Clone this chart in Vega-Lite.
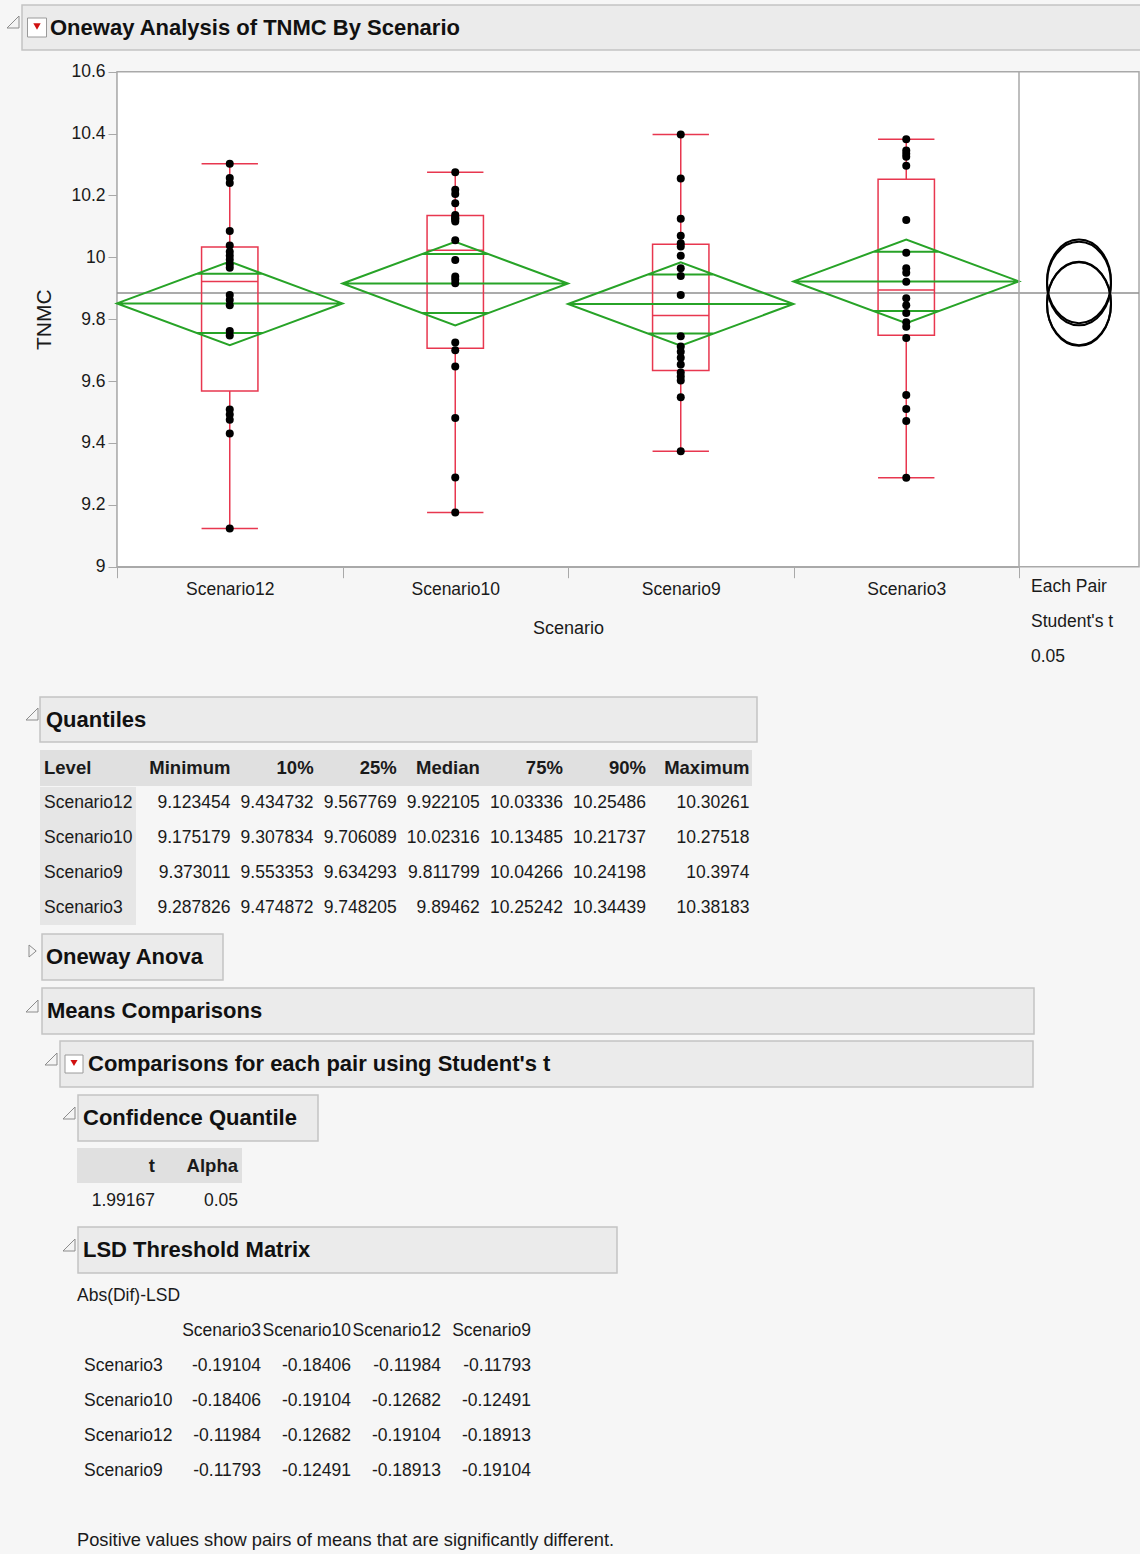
{
"$schema": "https://vega.github.io/schema/vega-lite/v6.json",
"width": 1140, "height": 1554, "padding": 0, "autosize": {"type": "none"},
"background": "#f6f6f6",
"config": {"view": {"stroke": null}, "font": "Liberation Sans, Arial, sans-serif", "text": {"fontSize": 17.5, "color": "#1a1a1a"}},
"datasets": {
 "summary": [
  {"Level":"Scenario12","Minimum":9.123454,"10%":9.434732,"25%":9.567769,"Median":9.922105,"75%":10.03336,"90%":10.25486,"Maximum":10.30261,"Mean":9.851},
  {"Level":"Scenario10","Minimum":9.175179,"10%":9.307834,"25%":9.706089,"Median":10.02316,"75%":10.13485,"90%":10.21737,"Maximum":10.27518,"Mean":9.9152},
  {"Level":"Scenario9","Minimum":9.373011,"10%":9.553353,"25%":9.634293,"Median":9.811799,"75%":10.04266,"90%":10.24198,"Maximum":10.3974,"Mean":9.8491},
  {"Level":"Scenario3","Minimum":9.287826,"10%":9.474872,"25%":9.748205,"Median":9.89462,"75%":10.25242,"90%":10.34439,"Maximum":10.38183,"Mean":9.9222}
 ],
 "obs": [
  {"Scenario":"Scenario12","TNMC":9.123454},{"Scenario":"Scenario12","TNMC":9.4303},{"Scenario":"Scenario12","TNMC":9.4747},{"Scenario":"Scenario12","TNMC":9.492},{"Scenario":"Scenario12","TNMC":9.508},
  {"Scenario":"Scenario12","TNMC":9.747},{"Scenario":"Scenario12","TNMC":9.762},{"Scenario":"Scenario12","TNMC":9.845},{"Scenario":"Scenario12","TNMC":9.862},{"Scenario":"Scenario12","TNMC":9.878},
  {"Scenario":"Scenario12","TNMC":9.9662},{"Scenario":"Scenario12","TNMC":9.978},{"Scenario":"Scenario12","TNMC":9.992},{"Scenario":"Scenario12","TNMC":10.005},{"Scenario":"Scenario12","TNMC":10.018},
  {"Scenario":"Scenario12","TNMC":10.0385},{"Scenario":"Scenario12","TNMC":10.085},{"Scenario":"Scenario12","TNMC":10.24},{"Scenario":"Scenario12","TNMC":10.2565},{"Scenario":"Scenario12","TNMC":10.30261},
  {"Scenario":"Scenario10","TNMC":9.175179},{"Scenario":"Scenario10","TNMC":9.2886},{"Scenario":"Scenario10","TNMC":9.481},{"Scenario":"Scenario10","TNMC":9.647},{"Scenario":"Scenario10","TNMC":9.70},
  {"Scenario":"Scenario10","TNMC":9.7244},{"Scenario":"Scenario10","TNMC":9.916},{"Scenario":"Scenario10","TNMC":9.928},{"Scenario":"Scenario10","TNMC":9.938},{"Scenario":"Scenario10","TNMC":9.991},
  {"Scenario":"Scenario10","TNMC":10.0553},{"Scenario":"Scenario10","TNMC":10.116},{"Scenario":"Scenario10","TNMC":10.122},{"Scenario":"Scenario10","TNMC":10.126},{"Scenario":"Scenario10","TNMC":10.13},
  {"Scenario":"Scenario10","TNMC":10.1365},{"Scenario":"Scenario10","TNMC":10.175},{"Scenario":"Scenario10","TNMC":10.205},{"Scenario":"Scenario10","TNMC":10.21875},{"Scenario":"Scenario10","TNMC":10.27518},
  {"Scenario":"Scenario9","TNMC":9.373011},{"Scenario":"Scenario9","TNMC":9.548},{"Scenario":"Scenario9","TNMC":9.6015},{"Scenario":"Scenario9","TNMC":9.615},{"Scenario":"Scenario9","TNMC":9.628},
  {"Scenario":"Scenario9","TNMC":9.6532},{"Scenario":"Scenario9","TNMC":9.675},{"Scenario":"Scenario9","TNMC":9.695},{"Scenario":"Scenario9","TNMC":9.712},{"Scenario":"Scenario9","TNMC":9.745},
  {"Scenario":"Scenario9","TNMC":9.8786},{"Scenario":"Scenario9","TNMC":9.94},{"Scenario":"Scenario9","TNMC":9.965},{"Scenario":"Scenario9","TNMC":10.005},{"Scenario":"Scenario9","TNMC":10.035},
  {"Scenario":"Scenario9","TNMC":10.0452},{"Scenario":"Scenario9","TNMC":10.07},{"Scenario":"Scenario9","TNMC":10.125},{"Scenario":"Scenario9","TNMC":10.255},{"Scenario":"Scenario9","TNMC":10.3974},
  {"Scenario":"Scenario3","TNMC":9.287826},{"Scenario":"Scenario3","TNMC":9.471},{"Scenario":"Scenario3","TNMC":9.5097},{"Scenario":"Scenario3","TNMC":9.555},{"Scenario":"Scenario3","TNMC":9.739},
  {"Scenario":"Scenario3","TNMC":9.7758},{"Scenario":"Scenario3","TNMC":9.79},{"Scenario":"Scenario3","TNMC":9.82},{"Scenario":"Scenario3","TNMC":9.845},{"Scenario":"Scenario3","TNMC":9.868},
  {"Scenario":"Scenario3","TNMC":9.9212},{"Scenario":"Scenario3","TNMC":9.95},{"Scenario":"Scenario3","TNMC":9.965},{"Scenario":"Scenario3","TNMC":10.015},{"Scenario":"Scenario3","TNMC":10.121},
  {"Scenario":"Scenario3","TNMC":10.2962},{"Scenario":"Scenario3","TNMC":10.325},{"Scenario":"Scenario3","TNMC":10.335},{"Scenario":"Scenario3","TNMC":10.3454},{"Scenario":"Scenario3","TNMC":10.38183}
 ],
 "lsd": [
  {"Row":"Scenario3","Col":"Scenario3","v":-0.19104},{"Row":"Scenario3","Col":"Scenario10","v":-0.18406},{"Row":"Scenario3","Col":"Scenario12","v":-0.11984},{"Row":"Scenario3","Col":"Scenario9","v":-0.11793},
  {"Row":"Scenario10","Col":"Scenario3","v":-0.18406},{"Row":"Scenario10","Col":"Scenario10","v":-0.19104},{"Row":"Scenario10","Col":"Scenario12","v":-0.12682},{"Row":"Scenario10","Col":"Scenario9","v":-0.12491},
  {"Row":"Scenario12","Col":"Scenario3","v":-0.11984},{"Row":"Scenario12","Col":"Scenario10","v":-0.12682},{"Row":"Scenario12","Col":"Scenario12","v":-0.19104},{"Row":"Scenario12","Col":"Scenario9","v":-0.18913},
  {"Row":"Scenario9","Col":"Scenario3","v":-0.11793},{"Row":"Scenario9","Col":"Scenario10","v":-0.12491},{"Row":"Scenario9","Col":"Scenario12","v":-0.18913},{"Row":"Scenario9","Col":"Scenario9","v":-0.19104}
 ]
},
"resolve": {"scale": {"x": "independent", "y": "independent"}, "axis": {"x": "independent", "y": "independent"}},
"layer": [
 {"data": {"values": [{"title": "Oneway Analysis of TNMC By Scenario"}]},
  "layer": [
   {"mark": {"type": "rect", "fill": "#ebebeb", "stroke": "#c4c4c4", "strokeWidth": 1.5},
    "encoding": {"x": {"datum": 0, "type": "quantitative", "scale": {"domain": [0,1], "range": [22,1145], "zero": false, "nice": false}, "axis": null}, "x2": {"datum": 1},
                 "y": {"datum": 0, "type": "quantitative", "scale": {"domain": [0,1], "range": [5,50], "zero": false, "nice": false}, "axis": null}, "y2": {"datum": 1}}},
   {"mark": {"type": "text", "align": "left", "baseline": "middle", "dx": 28, "fontSize": 22, "fontWeight": "bold", "color": "#111111"},
    "encoding": {"x": {"datum": 0, "type": "quantitative", "scale": {"domain": [0,1], "range": [22,1145], "zero": false, "nice": false}, "axis": null},
                 "y": {"datum": 0.5, "type": "quantitative", "scale": {"domain": [0,1], "range": [5,50], "zero": false, "nice": false}, "axis": null},
                 "text": {"field": "title"}}},
   {"mark": {"type": "point", "shape": "M1,-1L1,1L-1,1Z", "size": 144, "filled": true, "fill": "#f4f4f4", "stroke": "#8c8c8c", "strokeWidth": 1, "opacity": 1, "xOffset": -9, "yOffset": -5.5},
    "encoding": {"x": {"datum": 0, "type": "quantitative", "scale": {"domain": [0,1], "range": [22,1145], "zero": false, "nice": false}, "axis": null},
                 "y": {"datum": 0.5, "type": "quantitative", "scale": {"domain": [0,1], "range": [5,50], "zero": false, "nice": false}, "axis": null}}},
   {"mark": {"type": "point", "shape": "square", "size": 361, "filled": true, "fill": "#ffffff", "stroke": "#9a9a9a", "strokeWidth": 1, "opacity": 1, "xOffset": 15},
    "encoding": {"x": {"datum": 0, "type": "quantitative", "scale": {"domain": [0,1], "range": [22,1145], "zero": false, "nice": false}, "axis": null},
                 "y": {"datum": 0.5, "type": "quantitative", "scale": {"domain": [0,1], "range": [5,50], "zero": false, "nice": false}, "axis": null}}},
   {"mark": {"type": "point", "shape": "triangle-down", "size": 55, "filled": true, "fill": "#d01010", "stroke": null, "opacity": 1, "xOffset": 15, "yOffset": -1},
    "encoding": {"x": {"datum": 0, "type": "quantitative", "scale": {"domain": [0,1], "range": [22,1145], "zero": false, "nice": false}, "axis": null},
                 "y": {"datum": 0.5, "type": "quantitative", "scale": {"domain": [0,1], "range": [5,50], "zero": false, "nice": false}, "axis": null}}}
  ]},
 {"data": {"name": "summary"},
  "transform": [{"aggregate": [{"op": "mean", "field": "Mean", "as": "GrandMean"}]}],
  "layer": [
   {"mark": {"type": "rect", "fill": "#ffffff", "stroke": "#a9a9a9", "strokeWidth": 1.5},
    "encoding": {"x": {"datum": 0, "type": "quantitative", "scale": {"domain": [0,1], "range": [117,1139], "zero": false, "nice": false}, "axis": null}, "x2": {"datum": 1},
                 "y": {"datum": 9, "type": "quantitative", "scale": {"domain": [9,10.6], "range": [566.7,71.7], "zero": false, "nice": false}, "axis": null}, "y2": {"datum": 10.6}}},
   {"mark": {"type": "rule", "color": "#8f8f8f", "strokeWidth": 1.5},
    "encoding": {"x": {"datum": 0, "type": "quantitative", "scale": {"domain": [0,1], "range": [117,1139], "zero": false, "nice": false}, "axis": null}, "x2": {"datum": 1},
                 "y": {"field": "GrandMean", "type": "quantitative", "scale": {"domain": [9,10.6], "range": [566.7,71.7], "zero": false, "nice": false}, "axis": null}}}
  ]},
 {"layer": [
   {"data": {"name": "summary"},
    "mark": {"type": "rule", "color": "#e8374f", "strokeWidth": 1.5},
    "encoding": {
     "x": {"field": "Level", "type": "ordinal", "scale": {"type": "band", "domain": ["Scenario12","Scenario10","Scenario9","Scenario3"], "range": [117,1019], "paddingInner": 0, "paddingOuter": 0},
           "axis": {"orient": "bottom", "offset": -987.3, "tickBand": "extent", "domainColor": "#a9a9a9", "domainWidth": 1.5, "tickColor": "#a9a9a9", "tickSize": 11, "labelFontSize": 17.5, "labelColor": "#1a1a1a", "labelPadding": 3, "labelAngle": 0, "title": "Scenario", "titleFontSize": 18, "titleFontWeight": "normal", "titleColor": "#1a1a1a", "titlePadding": 21, "grid": false}},
     "y": {"field": "75%", "type": "quantitative", "scale": {"domain": [9,10.6], "range": [566.7,71.7], "zero": false, "nice": false},
           "axis": {"orient": "left", "offset": -117, "values": [9,9.2,9.4,9.6,9.8,10,10.2,10.4,10.6], "format": "~g", "labelFlush": false, "labelOverlap": false, "domainColor": "#a9a9a9", "domainWidth": 1.5, "tickColor": "#a9a9a9", "tickSize": 9, "labelFontSize": 17.5, "labelColor": "#1a1a1a", "labelPadding": 3, "title": "TNMC", "titleFontSize": 21, "titleFontWeight": "normal", "titleColor": "#1a1a1a", "titlePadding": 16, "grid": false}},
     "y2": {"field": "Maximum"}}},
   {"data": {"name": "summary"},
    "mark": {"type": "rule", "color": "#e8374f", "strokeWidth": 1.5},
    "encoding": {
     "x": {"field": "Level", "type": "ordinal", "scale": {"type": "band", "domain": ["Scenario12","Scenario10","Scenario9","Scenario3"], "range": [117,1019], "paddingInner": 0, "paddingOuter": 0}},
     "y": {"field": "Minimum", "type": "quantitative", "scale": {"domain": [9,10.6], "range": [566.7,71.7], "zero": false, "nice": false}},
     "y2": {"field": "25%"}}},
   {"data": {"name": "summary"},
    "mark": {"type": "bar", "width": {"band": 0.25}, "fill": "#ffffff", "fillOpacity": 0, "stroke": "#e8374f", "strokeWidth": 1.5},
    "encoding": {
     "x": {"field": "Level", "type": "ordinal", "scale": {"type": "band", "domain": ["Scenario12","Scenario10","Scenario9","Scenario3"], "range": [117,1019], "paddingInner": 0, "paddingOuter": 0}},
     "y": {"field": "25%", "type": "quantitative", "scale": {"domain": [9,10.6], "range": [566.7,71.7], "zero": false, "nice": false}},
     "y2": {"field": "75%"}}},
   {"data": {"name": "summary"},
    "mark": {"type": "bar", "width": {"band": 0.25}, "fill": "#ffffff", "fillOpacity": 0, "stroke": "#e8374f", "strokeWidth": 1.5},
    "encoding": {
     "x": {"field": "Level", "type": "ordinal", "scale": {"type": "band", "domain": ["Scenario12","Scenario10","Scenario9","Scenario3"], "range": [117,1019], "paddingInner": 0, "paddingOuter": 0}},
     "y": {"field": "Median", "type": "quantitative", "scale": {"domain": [9,10.6], "range": [566.7,71.7], "zero": false, "nice": false}},
     "y2": {"field": "Median"}}},
   {"data": {"name": "summary"},
    "mark": {"type": "bar", "width": {"band": 0.25}, "fill": "#ffffff", "fillOpacity": 0, "stroke": "#e8374f", "strokeWidth": 1.5},
    "encoding": {
     "x": {"field": "Level", "type": "ordinal", "scale": {"type": "band", "domain": ["Scenario12","Scenario10","Scenario9","Scenario3"], "range": [117,1019], "paddingInner": 0, "paddingOuter": 0}},
     "y": {"field": "Minimum", "type": "quantitative", "scale": {"domain": [9,10.6], "range": [566.7,71.7], "zero": false, "nice": false}},
     "y2": {"field": "Minimum"}}},
   {"data": {"name": "summary"},
    "mark": {"type": "bar", "width": {"band": 0.25}, "fill": "#ffffff", "fillOpacity": 0, "stroke": "#e8374f", "strokeWidth": 1.5},
    "encoding": {
     "x": {"field": "Level", "type": "ordinal", "scale": {"type": "band", "domain": ["Scenario12","Scenario10","Scenario9","Scenario3"], "range": [117,1019], "paddingInner": 0, "paddingOuter": 0}},
     "y": {"field": "Maximum", "type": "quantitative", "scale": {"domain": [9,10.6], "range": [566.7,71.7], "zero": false, "nice": false}},
     "y2": {"field": "Maximum"}}},
   {"data": {"name": "summary"},
    "mark": {"type": "point", "shape": "M-1,0L0,-0.3706L1,0L0,0.3706ZM-1,0L1,0M-0.2929,-0.2621L0.2929,-0.2621M-0.2929,0.2621L0.2929,0.2621", "size": 50850, "filled": false, "color": "#27a327", "strokeWidth": 2, "opacity": 1},
    "encoding": {
     "x": {"field": "Level", "type": "ordinal", "scale": {"type": "band", "domain": ["Scenario12","Scenario10","Scenario9","Scenario3"], "range": [117,1019], "paddingInner": 0, "paddingOuter": 0}},
     "y": {"field": "Mean", "type": "quantitative", "scale": {"domain": [9,10.6], "range": [566.7,71.7], "zero": false, "nice": false}}}},
   {"data": {"name": "obs"},
    "mark": {"type": "circle", "size": 64, "color": "#000000", "opacity": 1},
    "encoding": {
     "x": {"field": "Scenario", "type": "ordinal", "scale": {"type": "band", "domain": ["Scenario12","Scenario10","Scenario9","Scenario3"], "range": [117,1019], "paddingInner": 0, "paddingOuter": 0}},
     "y": {"field": "TNMC", "type": "quantitative", "scale": {"domain": [9,10.6], "range": [566.7,71.7], "zero": false, "nice": false}}}}
  ]},
 {"layer": [
   {"data": {"name": "summary"},
    "transform": [{"aggregate": [{"op": "count", "as": "groups"}]}],
    "mark": {"type": "rule", "color": "#a9a9a9", "strokeWidth": 1.5},
    "encoding": {"x": {"datum": 0, "type": "quantitative", "scale": {"domain": [0,1], "range": [1019,1139], "zero": false, "nice": false}, "axis": null},
                 "y": {"datum": 9, "type": "quantitative", "scale": {"domain": [9,10.6], "range": [566.7,71.7], "zero": false, "nice": false}, "axis": null}, "y2": {"datum": 10.6}}},
   {"data": {"name": "summary"},
    "mark": {"type": "point", "shape": "M-0.7657,0C-0.7657,-0.5523,-0.4229,-1,0,-1C0.4229,-1,0.7657,-0.5523,0.7657,0C0.7657,0.5523,0.4229,1,0,1C-0.4229,1,-0.7657,0.5523,-0.7657,0Z", "size": 6986, "filled": false, "color": "#000000", "strokeWidth": 2, "opacity": 1},
    "encoding": {"x": {"datum": 0.5, "type": "quantitative", "scale": {"domain": [0,1], "range": [1019,1139], "zero": false, "nice": false}, "axis": null},
                 "y": {"field": "Mean", "type": "quantitative", "scale": {"domain": [9,10.6], "range": [566.7,71.7], "zero": false, "nice": false}, "axis": null}}},
   {"data": {"values": [{"method": "Each Pair\nStudent's t\n0.05"}]},
    "mark": {"type": "text", "align": "left", "baseline": "top", "dx": 12, "dy": 11, "fontSize": 17.5, "lineHeight": 35, "lineBreak": "\n"},
    "encoding": {"x": {"datum": 0, "type": "quantitative", "scale": {"domain": [0,1], "range": [1019,1139], "zero": false, "nice": false}, "axis": null},
                 "y": {"datum": 9, "type": "quantitative", "scale": {"domain": [9,10.6], "range": [566.7,71.7], "zero": false, "nice": false}, "axis": null},
                 "text": {"field": "method"}}}
  ]},
 {"data": {"values": [{"title": "Quantiles"}]},
  "layer": [
   {"mark": {"type": "rect", "fill": "#ebebeb", "stroke": "#c4c4c4", "strokeWidth": 1.5},
    "encoding": {"x": {"datum": 0, "type": "quantitative", "scale": {"domain": [0,1], "range": [40,757], "zero": false, "nice": false}, "axis": null}, "x2": {"datum": 1},
                 "y": {"datum": 0, "type": "quantitative", "scale": {"domain": [0,1], "range": [697,742], "zero": false, "nice": false}, "axis": null}, "y2": {"datum": 1}}},
   {"mark": {"type": "text", "align": "left", "baseline": "middle", "dx": 6, "fontSize": 22, "fontWeight": "bold", "color": "#111111"},
    "encoding": {"x": {"datum": 0, "type": "quantitative", "scale": {"domain": [0,1], "range": [40,757], "zero": false, "nice": false}, "axis": null},
                 "y": {"datum": 0.5, "type": "quantitative", "scale": {"domain": [0,1], "range": [697,742], "zero": false, "nice": false}, "axis": null},
                 "text": {"field": "title"}}},
   {"mark": {"type": "point", "shape": "M1,-1L1,1L-1,1Z", "size": 144, "filled": true, "fill": "#f4f4f4", "stroke": "#8c8c8c", "strokeWidth": 1, "opacity": 1, "xOffset": -8, "yOffset": -5.5},
    "encoding": {"x": {"datum": 0, "type": "quantitative", "scale": {"domain": [0,1], "range": [40,757], "zero": false, "nice": false}, "axis": null},
                 "y": {"datum": 0.5, "type": "quantitative", "scale": {"domain": [0,1], "range": [697,742], "zero": false, "nice": false}, "axis": null}}}
  ]},
 {"data": {"values": [{"table": "Quantiles"}]},
  "layer": [
   {"mark": {"type": "rect", "fill": "#e0e0e0"},
    "encoding": {"x": {"datum": 0, "type": "quantitative", "scale": {"domain": [0,1], "range": [40,752], "zero": false, "nice": false}, "axis": null}, "x2": {"datum": 1},
                 "y": {"datum": 0, "type": "quantitative", "scale": {"domain": [0,1], "range": [750,786], "zero": false, "nice": false}, "axis": null}, "y2": {"datum": 1}}}
  ]},
 {"data": {"values": [{"table": "Quantiles"}]},
  "layer": [
   {"mark": {"type": "rect", "fill": "#e6e6e6"},
    "encoding": {"x": {"datum": 0, "type": "quantitative", "scale": {"domain": [0,1], "range": [40,136], "zero": false, "nice": false}, "axis": null}, "x2": {"datum": 1},
                 "y": {"datum": 0, "type": "quantitative", "scale": {"domain": [0,1], "range": [787,925], "zero": false, "nice": false}, "axis": null}, "y2": {"datum": 1}}}
  ]},
 {"layer": [
   {"data": {"name": "summary"},
    "mark": {"type": "text", "align": "left", "baseline": "middle", "fontSize": 17.5},
    "encoding": {"x": {"datum": 0, "type": "quantitative", "scale": {"domain": [0,1], "range": [44,100], "zero": false, "nice": false}, "axis": null},
                 "y": {"field": "Level", "type": "ordinal", "scale": {"type": "point", "domain": ["Level","Scenario12","Scenario10","Scenario9","Scenario3"], "range": [768,908], "padding": 0}, "axis": null},
                 "text": {"field": "Level"}}},
   {"data": {"values": [{"h": "Level"}]},
    "mark": {"type": "text", "align": "left", "baseline": "middle", "fontSize": 18.5, "fontWeight": "bold"},
    "encoding": {"x": {"datum": 0, "type": "quantitative", "scale": {"domain": [0,1], "range": [44,100], "zero": false, "nice": false}, "axis": null},
                 "y": {"datum": "Level", "type": "ordinal", "scale": {"type": "point", "domain": ["Level","Scenario12","Scenario10","Scenario9","Scenario3"], "range": [768,908], "padding": 0}, "axis": null},
                 "text": {"field": "h"}}}
  ]},
 {"data": {"name": "summary"},
  "transform": [{"fold": ["Minimum","10%","25%","Median","75%","90%"], "as": ["stat","val"]}],
  "layer": [
   {"mark": {"type": "text", "align": "right", "baseline": "middle", "fontSize": 17.5},
    "encoding": {"x": {"field": "stat", "type": "ordinal", "scale": {"type": "point", "domain": ["Minimum","10%","25%","Median","75%","90%"], "range": [230.5,646], "padding": 0}, "axis": null},
                 "y": {"field": "Level", "type": "ordinal", "scale": {"type": "point", "domain": ["Level","Scenario12","Scenario10","Scenario9","Scenario3"], "range": [768,908], "padding": 0}, "axis": null},
                 "text": {"field": "val", "type": "nominal"}}},
   {"transform": [{"aggregate": [{"op": "count", "as": "n"}], "groupby": ["stat"]}],
    "mark": {"type": "text", "align": "right", "baseline": "middle", "fontSize": 18.5, "fontWeight": "bold"},
    "encoding": {"x": {"field": "stat", "type": "ordinal", "scale": {"type": "point", "domain": ["Minimum","10%","25%","Median","75%","90%"], "range": [230.5,646], "padding": 0}, "axis": null},
                 "y": {"datum": "Level", "type": "ordinal", "scale": {"type": "point", "domain": ["Level","Scenario12","Scenario10","Scenario9","Scenario3"], "range": [768,908], "padding": 0}, "axis": null},
                 "text": {"field": "stat", "type": "nominal"}}}
  ]},
 {"layer": [
   {"data": {"name": "summary"},
    "mark": {"type": "text", "align": "right", "baseline": "middle", "fontSize": 17.5},
    "encoding": {"x": {"datum": 0, "type": "quantitative", "scale": {"domain": [0,1], "range": [749.5,800], "zero": false, "nice": false}, "axis": null},
                 "y": {"field": "Level", "type": "ordinal", "scale": {"type": "point", "domain": ["Level","Scenario12","Scenario10","Scenario9","Scenario3"], "range": [768,908], "padding": 0}, "axis": null},
                 "text": {"field": "Maximum", "type": "nominal"}}},
   {"data": {"values": [{"h": "Maximum"}]},
    "mark": {"type": "text", "align": "right", "baseline": "middle", "fontSize": 18.5, "fontWeight": "bold"},
    "encoding": {"x": {"datum": 0, "type": "quantitative", "scale": {"domain": [0,1], "range": [749.5,800], "zero": false, "nice": false}, "axis": null},
                 "y": {"datum": "Level", "type": "ordinal", "scale": {"type": "point", "domain": ["Level","Scenario12","Scenario10","Scenario9","Scenario3"], "range": [768,908], "padding": 0}, "axis": null},
                 "text": {"field": "h"}}}
  ]},
 {"data": {"values": [{"title": "Oneway Anova"}]},
  "layer": [
   {"mark": {"type": "rect", "fill": "#ebebeb", "stroke": "#c4c4c4", "strokeWidth": 1.5},
    "encoding": {"x": {"datum": 0, "type": "quantitative", "scale": {"domain": [0,1], "range": [42,223], "zero": false, "nice": false}, "axis": null}, "x2": {"datum": 1},
                 "y": {"datum": 0, "type": "quantitative", "scale": {"domain": [0,1], "range": [934,980], "zero": false, "nice": false}, "axis": null}, "y2": {"datum": 1}}},
   {"mark": {"type": "text", "align": "left", "baseline": "middle", "dx": 4, "fontSize": 22, "fontWeight": "bold", "color": "#111111"},
    "encoding": {"x": {"datum": 0, "type": "quantitative", "scale": {"domain": [0,1], "range": [42,223], "zero": false, "nice": false}, "axis": null},
                 "y": {"datum": 0.5, "type": "quantitative", "scale": {"domain": [0,1], "range": [934,980], "zero": false, "nice": false}, "axis": null},
                 "text": {"field": "title"}}},
   {"mark": {"type": "point", "shape": "M-0.5,-1L0.7,0L-0.5,1Z", "size": 144, "filled": true, "fill": "#f4f4f4", "stroke": "#8c8c8c", "strokeWidth": 1, "opacity": 1, "xOffset": -10, "yOffset": -6},
    "encoding": {"x": {"datum": 0, "type": "quantitative", "scale": {"domain": [0,1], "range": [42,223], "zero": false, "nice": false}, "axis": null},
                 "y": {"datum": 0.5, "type": "quantitative", "scale": {"domain": [0,1], "range": [934,980], "zero": false, "nice": false}, "axis": null}}}
  ]},
 {"data": {"values": [{"title": "Means Comparisons"}]},
  "layer": [
   {"mark": {"type": "rect", "fill": "#ebebeb", "stroke": "#c4c4c4", "strokeWidth": 1.5},
    "encoding": {"x": {"datum": 0, "type": "quantitative", "scale": {"domain": [0,1], "range": [42,1034], "zero": false, "nice": false}, "axis": null}, "x2": {"datum": 1},
                 "y": {"datum": 0, "type": "quantitative", "scale": {"domain": [0,1], "range": [988,1034], "zero": false, "nice": false}, "axis": null}, "y2": {"datum": 1}}},
   {"mark": {"type": "text", "align": "left", "baseline": "middle", "dx": 5, "fontSize": 22, "fontWeight": "bold", "color": "#111111"},
    "encoding": {"x": {"datum": 0, "type": "quantitative", "scale": {"domain": [0,1], "range": [42,1034], "zero": false, "nice": false}, "axis": null},
                 "y": {"datum": 0.5, "type": "quantitative", "scale": {"domain": [0,1], "range": [988,1034], "zero": false, "nice": false}, "axis": null},
                 "text": {"field": "title"}}},
   {"mark": {"type": "point", "shape": "M1,-1L1,1L-1,1Z", "size": 144, "filled": true, "fill": "#f4f4f4", "stroke": "#8c8c8c", "strokeWidth": 1, "opacity": 1, "xOffset": -10, "yOffset": -5},
    "encoding": {"x": {"datum": 0, "type": "quantitative", "scale": {"domain": [0,1], "range": [42,1034], "zero": false, "nice": false}, "axis": null},
                 "y": {"datum": 0.5, "type": "quantitative", "scale": {"domain": [0,1], "range": [988,1034], "zero": false, "nice": false}, "axis": null}}}
  ]},
 {"data": {"values": [{"title": "Comparisons for each pair using Student's t"}]},
  "layer": [
   {"mark": {"type": "rect", "fill": "#ebebeb", "stroke": "#c4c4c4", "strokeWidth": 1.5},
    "encoding": {"x": {"datum": 0, "type": "quantitative", "scale": {"domain": [0,1], "range": [60,1033], "zero": false, "nice": false}, "axis": null}, "x2": {"datum": 1},
                 "y": {"datum": 0, "type": "quantitative", "scale": {"domain": [0,1], "range": [1041,1087], "zero": false, "nice": false}, "axis": null}, "y2": {"datum": 1}}},
   {"mark": {"type": "text", "align": "left", "baseline": "middle", "dx": 28, "fontSize": 22, "fontWeight": "bold", "color": "#111111"},
    "encoding": {"x": {"datum": 0, "type": "quantitative", "scale": {"domain": [0,1], "range": [60,1033], "zero": false, "nice": false}, "axis": null},
                 "y": {"datum": 0.5, "type": "quantitative", "scale": {"domain": [0,1], "range": [1041,1087], "zero": false, "nice": false}, "axis": null},
                 "text": {"field": "title"}}},
   {"mark": {"type": "point", "shape": "M1,-1L1,1L-1,1Z", "size": 144, "filled": true, "fill": "#f4f4f4", "stroke": "#8c8c8c", "strokeWidth": 1, "opacity": 1, "xOffset": -9, "yOffset": -5},
    "encoding": {"x": {"datum": 0, "type": "quantitative", "scale": {"domain": [0,1], "range": [60,1033], "zero": false, "nice": false}, "axis": null},
                 "y": {"datum": 0.5, "type": "quantitative", "scale": {"domain": [0,1], "range": [1041,1087], "zero": false, "nice": false}, "axis": null}}},
   {"mark": {"type": "point", "shape": "square", "size": 324, "filled": true, "fill": "#ffffff", "stroke": "#9a9a9a", "strokeWidth": 1, "opacity": 1, "xOffset": 14},
    "encoding": {"x": {"datum": 0, "type": "quantitative", "scale": {"domain": [0,1], "range": [60,1033], "zero": false, "nice": false}, "axis": null},
                 "y": {"datum": 0.5, "type": "quantitative", "scale": {"domain": [0,1], "range": [1041,1087], "zero": false, "nice": false}, "axis": null}}},
   {"mark": {"type": "point", "shape": "triangle-down", "size": 50, "filled": true, "fill": "#d01010", "stroke": null, "opacity": 1, "xOffset": 14, "yOffset": -1},
    "encoding": {"x": {"datum": 0, "type": "quantitative", "scale": {"domain": [0,1], "range": [60,1033], "zero": false, "nice": false}, "axis": null},
                 "y": {"datum": 0.5, "type": "quantitative", "scale": {"domain": [0,1], "range": [1041,1087], "zero": false, "nice": false}, "axis": null}}}
  ]},
 {"data": {"values": [{"title": "Confidence Quantile"}]},
  "layer": [
   {"mark": {"type": "rect", "fill": "#ebebeb", "stroke": "#c4c4c4", "strokeWidth": 1.5},
    "encoding": {"x": {"datum": 0, "type": "quantitative", "scale": {"domain": [0,1], "range": [78,318], "zero": false, "nice": false}, "axis": null}, "x2": {"datum": 1},
                 "y": {"datum": 0, "type": "quantitative", "scale": {"domain": [0,1], "range": [1095,1141], "zero": false, "nice": false}, "axis": null}, "y2": {"datum": 1}}},
   {"mark": {"type": "text", "align": "left", "baseline": "middle", "dx": 5, "fontSize": 22, "fontWeight": "bold", "color": "#111111"},
    "encoding": {"x": {"datum": 0, "type": "quantitative", "scale": {"domain": [0,1], "range": [78,318], "zero": false, "nice": false}, "axis": null},
                 "y": {"datum": 0.5, "type": "quantitative", "scale": {"domain": [0,1], "range": [1095,1141], "zero": false, "nice": false}, "axis": null},
                 "text": {"field": "title"}}},
   {"mark": {"type": "point", "shape": "M1,-1L1,1L-1,1Z", "size": 144, "filled": true, "fill": "#f4f4f4", "stroke": "#8c8c8c", "strokeWidth": 1, "opacity": 1, "xOffset": -9, "yOffset": -5},
    "encoding": {"x": {"datum": 0, "type": "quantitative", "scale": {"domain": [0,1], "range": [78,318], "zero": false, "nice": false}, "axis": null},
                 "y": {"datum": 0.5, "type": "quantitative", "scale": {"domain": [0,1], "range": [1095,1141], "zero": false, "nice": false}, "axis": null}}}
  ]},
 {"data": {"values": [{"table": "Confidence Quantile"}]},
  "layer": [
   {"mark": {"type": "rect", "fill": "#e0e0e0"},
    "encoding": {"x": {"datum": 0, "type": "quantitative", "scale": {"domain": [0,1], "range": [77,242], "zero": false, "nice": false}, "axis": null}, "x2": {"datum": 1},
                 "y": {"datum": 0, "type": "quantitative", "scale": {"domain": [0,1], "range": [1148,1183], "zero": false, "nice": false}, "axis": null}, "y2": {"datum": 1}}}
  ]},
 {"data": {"values": [{"t": 1.99167, "Alpha": 0.05}]},
  "transform": [{"fold": ["t","Alpha"], "as": ["col","val"]}],
  "layer": [
   {"mark": {"type": "text", "align": "right", "baseline": "middle", "fontSize": 18.5, "fontWeight": "bold"},
    "encoding": {"x": {"field": "col", "type": "ordinal", "scale": {"type": "point", "domain": ["t","Alpha"], "range": [155,238], "padding": 0}, "axis": null},
                 "y": {"datum": 0, "type": "quantitative", "scale": {"domain": [0,1], "range": [1166,1201], "zero": false, "nice": false}, "axis": null},
                 "text": {"field": "col", "type": "nominal"}}},
   {"mark": {"type": "text", "align": "right", "baseline": "middle", "fontSize": 17.5},
    "encoding": {"x": {"field": "col", "type": "ordinal", "scale": {"type": "point", "domain": ["t","Alpha"], "range": [155,238], "padding": 0}, "axis": null},
                 "y": {"datum": 1, "type": "quantitative", "scale": {"domain": [0,1], "range": [1166,1201], "zero": false, "nice": false}, "axis": null},
                 "text": {"field": "val", "type": "nominal"}}}
  ]},
 {"data": {"values": [{"title": "LSD Threshold Matrix"}]},
  "layer": [
   {"mark": {"type": "rect", "fill": "#ebebeb", "stroke": "#c4c4c4", "strokeWidth": 1.5},
    "encoding": {"x": {"datum": 0, "type": "quantitative", "scale": {"domain": [0,1], "range": [78,617], "zero": false, "nice": false}, "axis": null}, "x2": {"datum": 1},
                 "y": {"datum": 0, "type": "quantitative", "scale": {"domain": [0,1], "range": [1227,1273], "zero": false, "nice": false}, "axis": null}, "y2": {"datum": 1}}},
   {"mark": {"type": "text", "align": "left", "baseline": "middle", "dx": 5, "fontSize": 22, "fontWeight": "bold", "color": "#111111"},
    "encoding": {"x": {"datum": 0, "type": "quantitative", "scale": {"domain": [0,1], "range": [78,617], "zero": false, "nice": false}, "axis": null},
                 "y": {"datum": 0.5, "type": "quantitative", "scale": {"domain": [0,1], "range": [1227,1273], "zero": false, "nice": false}, "axis": null},
                 "text": {"field": "title"}}},
   {"mark": {"type": "point", "shape": "M1,-1L1,1L-1,1Z", "size": 144, "filled": true, "fill": "#f4f4f4", "stroke": "#8c8c8c", "strokeWidth": 1, "opacity": 1, "xOffset": -9, "yOffset": -5},
    "encoding": {"x": {"datum": 0, "type": "quantitative", "scale": {"domain": [0,1], "range": [78,617], "zero": false, "nice": false}, "axis": null},
                 "y": {"datum": 0.5, "type": "quantitative", "scale": {"domain": [0,1], "range": [1227,1273], "zero": false, "nice": false}, "axis": null}}}
  ]},
 {"data": {"name": "lsd"},
  "layer": [
   {"mark": {"type": "text", "align": "right", "baseline": "middle", "fontSize": 17.5},
    "encoding": {"x": {"field": "Col", "type": "ordinal", "scale": {"type": "point", "domain": ["Scenario3","Scenario10","Scenario12","Scenario9"], "range": [261,531], "padding": 0}, "axis": null},
                 "y": {"field": "Row", "type": "ordinal", "scale": {"type": "point", "domain": ["Abs(Dif)-LSD","columns","Scenario3","Scenario10","Scenario12","Scenario9","spacer","note"], "range": [1296,1541], "padding": 0}, "axis": null},
                 "text": {"field": "v", "type": "nominal"}}},
   {"transform": [{"aggregate": [{"op": "count", "as": "n"}], "groupby": ["Col"]}],
    "mark": {"type": "text", "align": "right", "baseline": "middle", "fontSize": 17.5},
    "encoding": {"x": {"field": "Col", "type": "ordinal", "scale": {"type": "point", "domain": ["Scenario3","Scenario10","Scenario12","Scenario9"], "range": [261,531], "padding": 0}, "axis": null},
                 "y": {"datum": "columns", "type": "ordinal", "scale": {"type": "point", "domain": ["Abs(Dif)-LSD","columns","Scenario3","Scenario10","Scenario12","Scenario9","spacer","note"], "range": [1296,1541], "padding": 0}, "axis": null},
                 "text": {"field": "Col", "type": "nominal"}}}
  ]},
 {"layer": [
   {"data": {"values": [{"label": "Abs(Dif)-LSD"}]},
    "mark": {"type": "text", "align": "left", "baseline": "middle", "fontSize": 17.5},
    "encoding": {"x": {"datum": 0, "type": "quantitative", "scale": {"domain": [0,1], "range": [77,600], "zero": false, "nice": false}, "axis": null},
                 "y": {"datum": "Abs(Dif)-LSD", "type": "ordinal", "scale": {"type": "point", "domain": ["Abs(Dif)-LSD","columns","Scenario3","Scenario10","Scenario12","Scenario9","spacer","note"], "range": [1296,1541], "padding": 0}, "axis": null},
                 "text": {"field": "label"}}},
   {"data": {"name": "lsd"},
    "transform": [{"aggregate": [{"op": "count", "as": "n"}], "groupby": ["Row"]}],
    "mark": {"type": "text", "align": "left", "baseline": "middle", "fontSize": 17.5, "dx": 7},
    "encoding": {"x": {"datum": 0, "type": "quantitative", "scale": {"domain": [0,1], "range": [77,600], "zero": false, "nice": false}, "axis": null},
                 "y": {"field": "Row", "type": "ordinal", "scale": {"type": "point", "domain": ["Abs(Dif)-LSD","columns","Scenario3","Scenario10","Scenario12","Scenario9","spacer","note"], "range": [1296,1541], "padding": 0}, "axis": null},
                 "text": {"field": "Row"}}},
   {"data": {"values": [{"note": "Positive values show pairs of means that are significantly different."}]},
    "mark": {"type": "text", "align": "left", "baseline": "middle", "fontSize": 18.3},
    "encoding": {"x": {"datum": 0, "type": "quantitative", "scale": {"domain": [0,1], "range": [77,600], "zero": false, "nice": false}, "axis": null},
                 "y": {"datum": "note", "type": "ordinal", "scale": {"type": "point", "domain": ["Abs(Dif)-LSD","columns","Scenario3","Scenario10","Scenario12","Scenario9","spacer","note"], "range": [1296,1541], "padding": 0}, "axis": null},
                 "text": {"field": "note"}}}
  ]}
]
}
